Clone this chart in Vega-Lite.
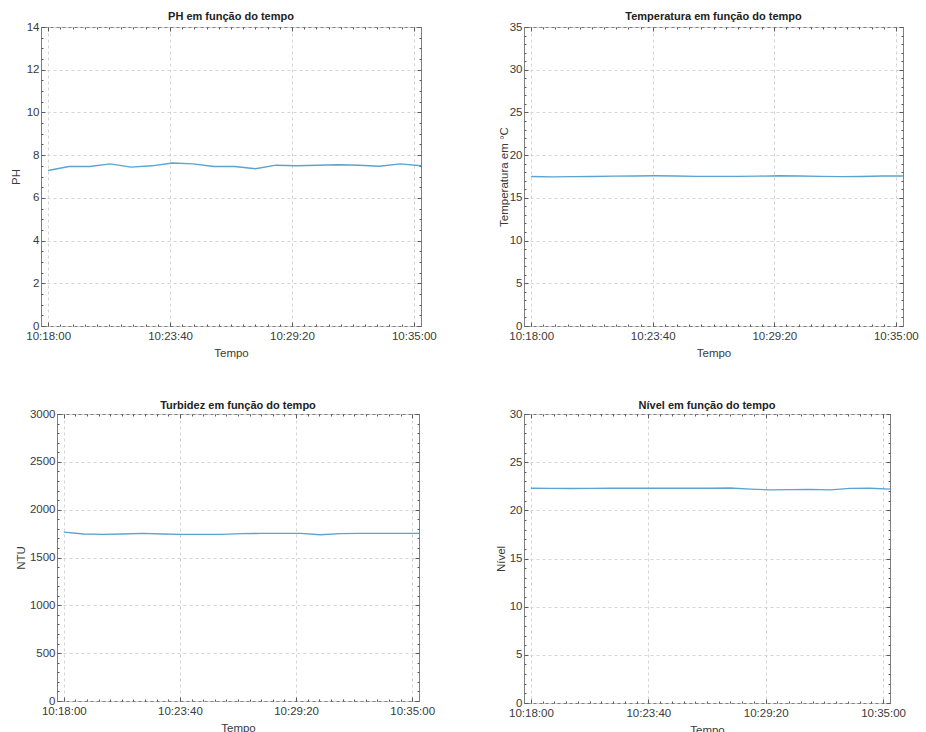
{
  "$schema": "https://vega.github.io/schema/vega-lite/v6.json",
  "padding": {"left": 0, "top": 10, "right": 0, "bottom": 0},
  "data": {
    "values": [
      {"t": "10:18:00", "ph": 7.28, "temp": 17.50, "ntu": 1765, "nivel": 22.30},
      {"t": "10:18:58", "ph": 7.47, "temp": 17.46, "ntu": 1745, "nivel": 22.28},
      {"t": "10:19:56", "ph": 7.47, "temp": 17.48, "ntu": 1742, "nivel": 22.26},
      {"t": "10:20:53", "ph": 7.59, "temp": 17.50, "ntu": 1745, "nivel": 22.28},
      {"t": "10:21:51", "ph": 7.44, "temp": 17.54, "ntu": 1752, "nivel": 22.30},
      {"t": "10:22:49", "ph": 7.50, "temp": 17.56, "ntu": 1745, "nivel": 22.30},
      {"t": "10:23:47", "ph": 7.63, "temp": 17.58, "ntu": 1742, "nivel": 22.30},
      {"t": "10:24:44", "ph": 7.59, "temp": 17.56, "ntu": 1742, "nivel": 22.30},
      {"t": "10:25:42", "ph": 7.47, "temp": 17.52, "ntu": 1742, "nivel": 22.30},
      {"t": "10:26:40", "ph": 7.47, "temp": 17.52, "ntu": 1750, "nivel": 22.30},
      {"t": "10:27:38", "ph": 7.36, "temp": 17.52, "ntu": 1752, "nivel": 22.32},
      {"t": "10:28:36", "ph": 7.53, "temp": 17.54, "ntu": 1752, "nivel": 22.20},
      {"t": "10:29:33", "ph": 7.50, "temp": 17.58, "ntu": 1752, "nivel": 22.12},
      {"t": "10:30:31", "ph": 7.53, "temp": 17.56, "ntu": 1738, "nivel": 22.15},
      {"t": "10:31:29", "ph": 7.55, "temp": 17.52, "ntu": 1750, "nivel": 22.18},
      {"t": "10:32:27", "ph": 7.53, "temp": 17.48, "ntu": 1752, "nivel": 22.12},
      {"t": "10:33:24", "ph": 7.48, "temp": 17.50, "ntu": 1752, "nivel": 22.28},
      {"t": "10:34:22", "ph": 7.59, "temp": 17.56, "ntu": 1752, "nivel": 22.30},
      {"t": "10:35:20", "ph": 7.50, "temp": 17.56, "ntu": 1752, "nivel": 22.20}
    ],
    "format": {"parse": {"t": "utc:'%H:%M:%S'"}}
  },
  "spacing": 39,
  "vconcat": [
    {
      "spacing": 60,
      "hconcat": [
        {
          "spacing": 0,
          "hconcat": [
            {"width": 9, "height": 1, "data": {"values": []}, "mark": {"type": "point", "opacity": 0}, "view": {"stroke": null}},
            {
              "width": 380, "height": 299,
              "title": {"text": "PH em função do tempo"},
              "layer": [
                {"mark": {"type": "line", "color": "#5ba3d0", "strokeWidth": 1.4},
                 "encoding": {
                   "x": {"field": "t", "type": "temporal", "scale": {"type": "utc", "domain": [{"year": 1900, "month": 1, "date": 1, "hours": 10, "minutes": 17, "seconds": 40, "utc": true}, {"year": 1900, "month": 1, "date": 1, "hours": 10, "minutes": 35, "seconds": 20, "utc": true}]},
                         "axis": {"orient": "bottom", "title": "Tempo", "labelExpr": "utcFormat(datum.value, '%H:%M:%S')", "values": {"expr": "sequence(utc(1900,0,1,10,18,0), utc(1900,0,1,10,35,1), 340000)"}, "grid": true, "tickSize": -4, "labelPadding": 8, "titlePadding": 6}},
                   "y": {"field": "ph", "type": "quantitative", "scale": {"domain": [0, 14], "nice": false},
                         "axis": {"orient": "left", "title": "PH", "values": {"expr": "sequence(0, 15, 2)"}, "grid": true, "tickSize": -4, "labelPadding": 6, "titlePadding": 5}}
                 }},
                {"mark": {"type": "line", "strokeOpacity": 0},
                 "encoding": {
                   "x": {"field": "t", "type": "temporal", "axis": {"orient": "top", "title": null, "labels": false, "grid": false, "values": {"expr": "sequence(utc(1900,0,1,10,18,0), utc(1900,0,1,10,35,1), 340000)"}, "tickSize": -4}},
                   "y": {"field": "ph", "type": "quantitative", "axis": {"orient": "right", "title": null, "labels": false, "grid": false, "values": {"expr": "sequence(0, 15, 2)"}, "tickSize": -4}}
                 }},
                {"mark": {"type": "line", "strokeOpacity": 0},
                 "encoding": {
                   "x": {"field": "t", "type": "temporal", "axis": {"orient": "bottom", "title": null, "labels": false, "grid": false, "values": {"expr": "sequence(utc(1900,0,1,10,18,0), utc(1900,0,1,10,35,1), 34000)"}, "tickSize": -2}},
                   "y": {"field": "ph", "type": "quantitative", "axis": {"orient": "left", "title": null, "labels": false, "grid": false, "values": {"expr": "sequence(0, 14.01, 0.5)"}, "tickSize": -2}}
                 }},
                {"mark": {"type": "line", "strokeOpacity": 0},
                 "encoding": {
                   "x": {"field": "t", "type": "temporal", "axis": {"orient": "top", "title": null, "labels": false, "grid": false, "values": {"expr": "sequence(utc(1900,0,1,10,18,0), utc(1900,0,1,10,35,1), 34000)"}, "tickSize": -2}},
                   "y": {"field": "ph", "type": "quantitative", "axis": {"orient": "right", "title": null, "labels": false, "grid": false, "values": {"expr": "sequence(0, 14.01, 0.5)"}, "tickSize": -2}}
                 }}
              ],
              "resolve": {"axis": {"x": "independent", "y": "independent"}}
            }
          ]
        },
        {
          "width": 379, "height": 299,
          "title": {"text": "Temperatura em função do tempo"},
          "layer": [
            {"mark": {"type": "line", "color": "#5ba3d0", "strokeWidth": 1.4},
             "encoding": {
               "x": {"field": "t", "type": "temporal", "scale": {"type": "utc", "domain": [{"year": 1900, "month": 1, "date": 1, "hours": 10, "minutes": 17, "seconds": 40, "utc": true}, {"year": 1900, "month": 1, "date": 1, "hours": 10, "minutes": 35, "seconds": 20, "utc": true}]},
                     "axis": {"orient": "bottom", "title": "Tempo", "labelExpr": "utcFormat(datum.value, '%H:%M:%S')", "values": {"expr": "sequence(utc(1900,0,1,10,18,0), utc(1900,0,1,10,35,1), 340000)"}, "grid": true, "tickSize": -4, "labelPadding": 8, "titlePadding": 6}},
               "y": {"field": "temp", "type": "quantitative", "scale": {"domain": [0, 35], "nice": false},
                     "axis": {"orient": "left", "title": "Temperatura em °C", "values": {"expr": "sequence(0, 36, 5)"}, "grid": true, "tickSize": -4, "labelPadding": 6, "titlePadding": 0}}
             }},
            {"mark": {"type": "line", "strokeOpacity": 0},
             "encoding": {
               "x": {"field": "t", "type": "temporal", "axis": {"orient": "top", "title": null, "labels": false, "grid": false, "values": {"expr": "sequence(utc(1900,0,1,10,18,0), utc(1900,0,1,10,35,1), 340000)"}, "tickSize": -4}},
               "y": {"field": "temp", "type": "quantitative", "axis": {"orient": "right", "title": null, "labels": false, "grid": false, "values": {"expr": "sequence(0, 36, 5)"}, "tickSize": -4}}
             }},
            {"mark": {"type": "line", "strokeOpacity": 0},
             "encoding": {
               "x": {"field": "t", "type": "temporal", "axis": {"orient": "bottom", "title": null, "labels": false, "grid": false, "values": {"expr": "sequence(utc(1900,0,1,10,18,0), utc(1900,0,1,10,35,1), 34000)"}, "tickSize": -2}},
               "y": {"field": "temp", "type": "quantitative", "axis": {"orient": "left", "title": null, "labels": false, "grid": false, "values": {"expr": "sequence(0, 35.01, 1)"}, "tickSize": -2}}
             }},
            {"mark": {"type": "line", "strokeOpacity": 0},
             "encoding": {
               "x": {"field": "t", "type": "temporal", "axis": {"orient": "top", "title": null, "labels": false, "grid": false, "values": {"expr": "sequence(utc(1900,0,1,10,18,0), utc(1900,0,1,10,35,1), 34000)"}, "tickSize": -2}},
               "y": {"field": "temp", "type": "quantitative", "axis": {"orient": "right", "title": null, "labels": false, "grid": false, "values": {"expr": "sequence(0, 35.01, 1)"}, "tickSize": -2}}
             }}
          ],
          "resolve": {"axis": {"x": "independent", "y": "independent"}}
        }
      ]
    },
    {
      "spacing": 58,
      "hconcat": [
        {
          "spacing": 0,
          "hconcat": [
            {"width": 14, "height": 1, "data": {"values": []}, "mark": {"type": "point", "opacity": 0}, "view": {"stroke": null}},
            {
              "width": 362, "height": 287,
              "title": {"text": "Turbidez em função do tempo", "offset": -3},
              "layer": [
                {"mark": {"type": "line", "color": "#5ba3d0", "strokeWidth": 1.4},
                 "encoding": {
                   "x": {"field": "t", "type": "temporal", "scale": {"type": "utc", "domain": [{"year": 1900, "month": 1, "date": 1, "hours": 10, "minutes": 17, "seconds": 40, "utc": true}, {"year": 1900, "month": 1, "date": 1, "hours": 10, "minutes": 35, "seconds": 20, "utc": true}]},
                         "axis": {"orient": "bottom", "title": "Tempo", "labelExpr": "utcFormat(datum.value, '%H:%M:%S')", "values": {"expr": "sequence(utc(1900,0,1,10,18,0), utc(1900,0,1,10,35,1), 340000)"}, "grid": true, "tickSize": -4, "labelPadding": 8, "titlePadding": 6}},
                   "y": {"field": "ntu", "type": "quantitative", "scale": {"domain": [0, 3000], "nice": false},
                         "axis": {"orient": "left", "title": "NTU", "format": "d", "values": {"expr": "sequence(0, 3001, 500)"}, "grid": true, "tickSize": -4, "labelPadding": 6, "titlePadding": 3}}
                 }},
                {"mark": {"type": "line", "strokeOpacity": 0},
                 "encoding": {
                   "x": {"field": "t", "type": "temporal", "axis": {"orient": "top", "title": null, "labels": false, "grid": false, "values": {"expr": "sequence(utc(1900,0,1,10,18,0), utc(1900,0,1,10,35,1), 340000)"}, "tickSize": -4}},
                   "y": {"field": "ntu", "type": "quantitative", "axis": {"orient": "right", "title": null, "labels": false, "grid": false, "values": {"expr": "sequence(0, 3001, 500)"}, "tickSize": -4}}
                 }},
                {"mark": {"type": "line", "strokeOpacity": 0},
                 "encoding": {
                   "x": {"field": "t", "type": "temporal", "axis": {"orient": "bottom", "title": null, "labels": false, "grid": false, "values": {"expr": "sequence(utc(1900,0,1,10,18,0), utc(1900,0,1,10,35,1), 34000)"}, "tickSize": -2}},
                   "y": {"field": "ntu", "type": "quantitative", "axis": {"orient": "left", "title": null, "labels": false, "grid": false, "values": {"expr": "sequence(0, 3001, 100)"}, "tickSize": -2}}
                 }},
                {"mark": {"type": "line", "strokeOpacity": 0},
                 "encoding": {
                   "x": {"field": "t", "type": "temporal", "axis": {"orient": "top", "title": null, "labels": false, "grid": false, "values": {"expr": "sequence(utc(1900,0,1,10,18,0), utc(1900,0,1,10,35,1), 34000)"}, "tickSize": -2}},
                   "y": {"field": "ntu", "type": "quantitative", "axis": {"orient": "right", "title": null, "labels": false, "grid": false, "values": {"expr": "sequence(0, 3001, 100)"}, "tickSize": -2}}
                 }}
              ],
              "resolve": {"axis": {"x": "independent", "y": "independent"}}
            }
          ]
        },
        {
          "width": 366, "height": 289,
          "title": {"text": "Nível em função do tempo", "offset": -3},
          "layer": [
            {"mark": {"type": "line", "color": "#5ba3d0", "strokeWidth": 1.4},
             "encoding": {
               "x": {"field": "t", "type": "temporal", "scale": {"type": "utc", "domain": [{"year": 1900, "month": 1, "date": 1, "hours": 10, "minutes": 17, "seconds": 40, "utc": true}, {"year": 1900, "month": 1, "date": 1, "hours": 10, "minutes": 35, "seconds": 20, "utc": true}]},
                     "axis": {"orient": "bottom", "title": "Tempo", "labelExpr": "utcFormat(datum.value, '%H:%M:%S')", "values": {"expr": "sequence(utc(1900,0,1,10,18,0), utc(1900,0,1,10,35,1), 340000)"}, "grid": true, "tickSize": -4, "labelPadding": 8, "titlePadding": 6}},
               "y": {"field": "nivel", "type": "quantitative", "scale": {"domain": [0, 30], "nice": false},
                     "axis": {"orient": "left", "title": "Nível", "values": {"expr": "sequence(0, 31, 5)"}, "grid": true, "tickSize": -4, "labelPadding": 6, "titlePadding": 3}}
             }},
            {"mark": {"type": "line", "strokeOpacity": 0},
             "encoding": {
               "x": {"field": "t", "type": "temporal", "axis": {"orient": "top", "title": null, "labels": false, "grid": false, "values": {"expr": "sequence(utc(1900,0,1,10,18,0), utc(1900,0,1,10,35,1), 340000)"}, "tickSize": -4}},
               "y": {"field": "nivel", "type": "quantitative", "axis": {"orient": "right", "title": null, "labels": false, "grid": false, "values": {"expr": "sequence(0, 31, 5)"}, "tickSize": -4}}
             }},
            {"mark": {"type": "line", "strokeOpacity": 0},
             "encoding": {
               "x": {"field": "t", "type": "temporal", "axis": {"orient": "bottom", "title": null, "labels": false, "grid": false, "values": {"expr": "sequence(utc(1900,0,1,10,18,0), utc(1900,0,1,10,35,1), 34000)"}, "tickSize": -2}},
               "y": {"field": "nivel", "type": "quantitative", "axis": {"orient": "left", "title": null, "labels": false, "grid": false, "values": {"expr": "sequence(0, 30.01, 1)"}, "tickSize": -2}}
             }},
            {"mark": {"type": "line", "strokeOpacity": 0},
             "encoding": {
               "x": {"field": "t", "type": "temporal", "axis": {"orient": "top", "title": null, "labels": false, "grid": false, "values": {"expr": "sequence(utc(1900,0,1,10,18,0), utc(1900,0,1,10,35,1), 34000)"}, "tickSize": -2}},
               "y": {"field": "nivel", "type": "quantitative", "axis": {"orient": "right", "title": null, "labels": false, "grid": false, "values": {"expr": "sequence(0, 30.01, 1)"}, "tickSize": -2}}
             }}
          ],
          "resolve": {"axis": {"x": "independent", "y": "independent"}}
        }
      ]
    }
  ],
  "config": {
    "font": "Liberation Sans",
    "background": "white",
    "view": {"stroke": "#7f7f7f", "strokeWidth": 1},
    "axis": {
      "domain": false,
      "labelFont": "Liberation Sans", "labelFontSize": 11.5, "labelColor": "#3a3a3a",
      "titleFont": "Liberation Sans", "titleFontSize": 11.5, "titleFontWeight": "normal", "titleColor": "#3a3a3a",
      "titlePadding": 3,
      "tickColor": "#5a5a5a", "tickWidth": 1,
      "gridColor": "#d4d4d4", "gridDash": [3, 3], "gridWidth": 1,
      "labelOverlap": false, "labelFlush": false
    },
    "title": {"font": "Liberation Sans", "fontSize": 11, "fontWeight": "bold", "color": "#222222", "offset": -1}
  }
}
